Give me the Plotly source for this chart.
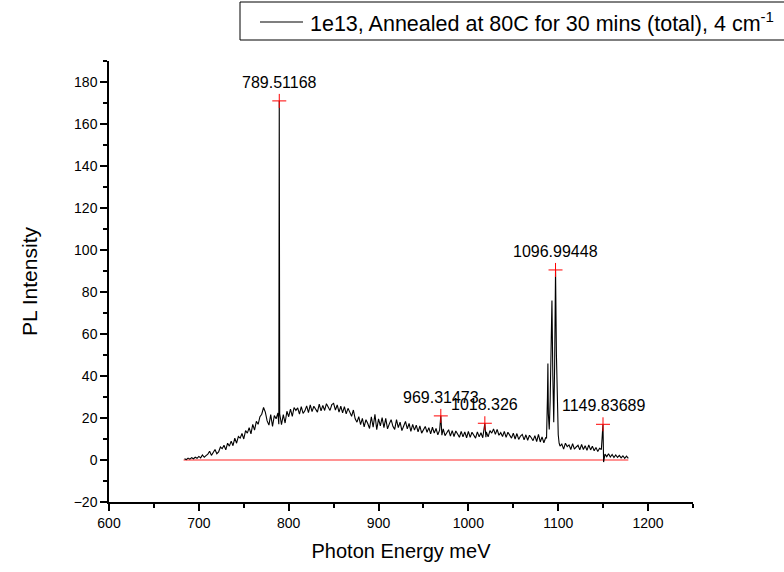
import plotly.graph_objects as go

# ---- data ----
energy = [
    684, 686, 688, 690, 692, 694, 696, 698, 700,
    702, 704, 706, 708, 710, 712, 714, 716, 718, 720,
    722, 724, 726, 728, 730, 732, 734, 736, 738, 740,
    742, 744, 746, 748, 750, 752, 754, 756, 758, 760,
    762, 764, 766, 768, 770, 772, 774, 776, 778, 780,
    782, 784, 786, 788, 789.0, 789.5, 790.0, 792, 794, 796, 798, 800,
    802, 804, 806, 808, 810, 812, 814, 816, 818, 820,
    822, 824, 826, 828, 830, 832, 834, 836, 838, 840,
    842, 844, 846, 848, 850, 852, 854, 856, 858, 860,
    862, 864, 866, 868, 870, 872, 874, 876, 878, 880,
    882, 884, 886, 888, 890, 892, 894, 896, 898, 900,
    902, 904, 906, 908, 910, 912, 914, 916, 918, 920,
    922, 924, 926, 928, 930, 932, 934, 936, 938, 940,
    942, 944, 946, 948, 950, 952, 954, 956, 958, 960,
    962, 964, 966, 968, 969.3, 970.5, 972, 974, 976, 978, 980,
    982, 984, 986, 988, 990, 992, 994, 996, 998, 1000,
    1002, 1004, 1006, 1008, 1010, 1012, 1014, 1016, 1018.3, 1019.5,
    1020, 1022, 1024, 1026, 1028, 1030, 1032, 1034, 1036, 1038, 1040,
    1042, 1044, 1046, 1048, 1050, 1052, 1054, 1056, 1058, 1060,
    1062, 1064, 1066, 1068, 1070, 1072, 1074, 1076, 1078, 1080,
    1082, 1084, 1086,
    1087, 1088, 1088.5, 1089, 1090, 1091, 1092, 1093, 1094, 1095,
    1096, 1097, 1098, 1099, 1100, 1101, 1102,
    1104, 1106, 1108, 1110, 1112, 1114, 1116, 1118, 1120, 1122,
    1124, 1126, 1128, 1130, 1132, 1134, 1136, 1138, 1140, 1142, 1144, 1146,
    1148, 1149.8, 1150.5,
    1152, 1154, 1156, 1158, 1160, 1162, 1164, 1166, 1168, 1170,
    1172, 1174, 1176, 1178,
]

intensity = [
    0.6, 0.2, 0.9, 0.4, 1.1, 0.6, 1.3, 0.8, 1.7,
    1.0, 2.4, 1.3, 2.1, 2.8, 4.2, 2.2, 3.6, 5.0, 3.0,
    3.8, 6.2, 5.4, 7.0, 4.8, 8.0, 6.6, 9.0, 6.8, 10.4,
    8.0, 11.2, 10.4, 12.6, 10.0, 14.0, 12.8, 15.4, 12.4, 17.0,
    14.2, 18.4, 17.0, 20.6, 21.8, 25.0, 22.8, 18.6, 16.6, 21.6,
    16.0, 21.2, 19.6, 22.4, 17.0, 171.0, 22.0, 16.8, 21.6, 17.6, 23.2, 20.6,
    24.2, 20.8, 25.0, 23.6, 24.8, 21.8, 25.4, 22.2, 23.4, 25.8,
    22.6, 26.2, 23.0, 25.6, 24.2, 22.8, 26.6, 23.4, 26.0, 23.6,
    26.8, 25.2, 23.6, 26.4, 27.0, 23.8, 26.2, 22.8, 25.6, 22.4,
    25.4, 22.0, 24.6, 22.8, 20.8, 23.8, 19.6, 18.0, 20.6, 16.8,
    19.8, 15.8, 19.2, 17.4, 15.0, 20.6, 15.6, 21.8, 14.4, 19.6,
    16.2, 20.2, 15.4, 19.8, 14.8, 17.2, 19.2, 16.0, 14.6, 19.2,
    15.4, 18.0, 14.0, 16.2, 18.4, 14.8, 17.4, 13.6, 17.0, 14.2,
    16.6, 13.4, 16.2, 12.8, 14.6, 16.0, 13.2, 15.4, 12.4, 15.6,
    12.8, 15.0, 12.0, 14.2, 21.0, 11.8, 14.8, 11.6, 13.0, 14.4, 11.4,
    14.0, 11.2, 13.8, 12.4, 10.8, 13.6, 11.0, 13.4, 10.6, 13.6,
    10.8, 13.2, 11.8, 10.4, 13.4, 11.0, 13.0, 10.6, 17.5, 10.8,
    13.4, 11.0, 14.0, 12.8, 14.8, 12.2, 14.6, 11.8, 13.0, 11.2, 13.6,
    10.8, 13.2, 11.8, 10.4, 12.8, 10.0, 12.6, 9.8, 11.4, 12.2,
    9.6, 12.0, 9.4, 11.8, 10.6, 9.2, 11.6, 8.8, 12.2, 8.6,
    11.0, 8.2, 10.6,
    10.5, 30.0, 46.0, 22.0, 14.5, 28.0, 45.0, 76.0, 40.0, 18.0,
    45.0, 90.5, 50.0, 24.0, 12.0, 8.0, 6.6,
    7.6, 5.2, 8.0, 6.4, 7.2, 5.0, 7.8, 5.2, 6.2, 7.0,
    4.8, 7.4, 5.0, 6.8, 4.6, 7.2, 4.8, 6.6, 4.4, 6.0, 4.0, 5.6,
    5.0, 17.0, -1.0,
    2.8, 1.6, 3.0, 1.4, 2.6, 1.2, 2.4, 1.2, 2.2, 1.0,
    2.0, 0.8, 1.8, 0.8,
]

peak_energy = [789.51168, 969.31473, 1018.326, 1096.99448, 1149.83689]
peak_intensity = [171.0, 21.0, 17.5, 90.5, 17.0]
peak_labels = ["789.51168", "969.31473", "1018.326", "1096.99448", "1149.83689"]

baseline_energy = [683, 1178]
baseline_intensity = [0, 0]

legend_name = "1e13, Annealed at 80C for 30 mins (total), 4 cm<sup>-1</sup>"

FONT = "Liberation Sans, Arial, sans-serif"

W, H = 784, 572
L, T = 109, 61
PLOT_R, PLOT_B = 693, 502
R, B = W - PLOT_R, H - PLOT_B
PW, PH = PLOT_R - L, PLOT_B - T


def px(xp):
    return (xp - L) / PW


def py(yp):
    return (PLOT_B - yp) / PH


fig = go.Figure()
fig.add_trace(go.Scatter(
    x=baseline_energy, y=baseline_intensity, mode="lines",
    line=dict(color="rgb(255,110,110)", width=1.5), showlegend=False,
    hoverinfo="skip"))
fig.add_trace(go.Scatter(
    x=energy, y=intensity, mode="lines", name=legend_name, showlegend=False,
    line=dict(color="black", width=1.1)))
fig.add_trace(go.Scatter(
    x=peak_energy, y=peak_intensity, mode="markers", showlegend=False,
    marker=dict(symbol="cross-thin", size=10, line=dict(color="red", width=1), color="red")))

for xe, ye, lab in zip(peak_energy, peak_intensity, peak_labels):
    fig.add_annotation(x=xe, y=ye, text=lab, showarrow=False, yanchor="bottom",
                       xanchor="center", yshift=8,
                       font=dict(family=FONT, size=16, color="black"))

# manual legend box (extends past right edge as in the reference)
fig.add_shape(type="rect", xref="paper", yref="paper",
              x0=px(240), x1=px(790), y0=py(40), y1=py(2),
              line=dict(color="black", width=1), fillcolor="white", layer="above")
fig.add_shape(type="line", xref="paper", yref="paper",
              x0=px(260), x1=px(303), y0=py(22), y1=py(22),
              line=dict(color="black", width=1.1), layer="above")
fig.add_annotation(xref="paper", yref="paper", x=px(308), y=py(22),
                   xanchor="left", yanchor="middle", showarrow=False,
                   text=legend_name, font=dict(family=FONT, size=21.5, color="black"))

axis_common = dict(
    showline=True, linecolor="black", linewidth=1.5, mirror=False, automargin=False,
    showgrid=False, zeroline=False, ticks="outside", ticklen=7, tickwidth=1.5,
    tickcolor="black", tickfont=dict(family=FONT, size=14, color="black"),
)

fig.update_xaxes(range=[600, 1250], dtick=100, tick0=600,
                 minor=dict(dtick=50, ticks="outside", ticklen=4, tickcolor="black", tickwidth=1.5),
                 title=dict(text="Photon Energy meV", font=dict(family=FONT, size=20, color="black"), standoff=14),
                 **axis_common)
fig.update_yaxes(range=[-20, 190], dtick=20, tick0=0,
                 minor=dict(dtick=10, ticks="outside", ticklen=4, tickcolor="black", tickwidth=1.5),
                 title=dict(text="PL Intensity", font=dict(family=FONT, size=21, color="black"), standoff=30),
                 **axis_common)

fig.update_layout(
    width=W, height=H,
    margin=dict(l=L, r=R, t=T, b=B, pad=0),
    paper_bgcolor="white", plot_bgcolor="white",
    font=dict(family=FONT, size=14, color="black"),
    showlegend=False,
)

# remove the default 8px page margin so the figure sits at the window origin
fig.write_html("out.html",
               config={"displayModeBar": False},
               post_script="document.body.style.margin='0px';document.body.style.overflow='hidden';")
